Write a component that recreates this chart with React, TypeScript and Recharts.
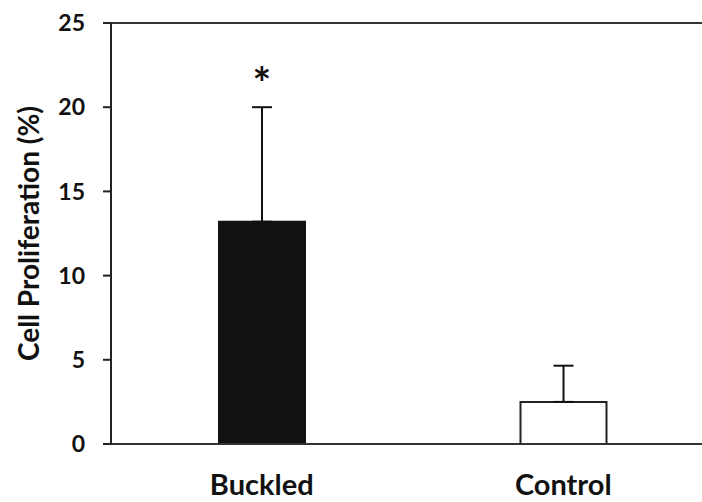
import { BarChart, Bar, XAxis, YAxis, ErrorBar, ReferenceLine, ReferenceDot, Cell } from 'recharts';

const groups = ['Buckled', 'Control'];
const means = [13.2, 2.5];
const upperErrors = [6.8, 2.15];
const significance = ['*', ''];
const yTicks = [0, 5, 10, 15, 20, 25];

const barFills = ['#121212', '#ffffff'];
const barStrokes = ['#121212', '#222222'];

const FONT = 'Lato, "Open Sans", sans-serif';

const chartData = groups.map((g, i) => ({
  group: g,
  value: means[i],
  // one-sided error bar: nothing below the mean, SD above it
  err: [0, upperErrors[i]],
  sig: significance[i],
}));

export default function App() {
  const sigPoints = chartData.filter((d) => d.sig);

  return (
    <div style={{ position: 'fixed', left: 0, top: 0, width: 702, height: 502, overflow: 'hidden', background: '#fff' }}>
      <BarChart
        width={714}
        height={502}
        data={chartData}
        margin={{ top: 23, right: 0, bottom: 0, left: 0 }}
      >
        <XAxis
          dataKey="group"
          height={58}
          axisLine={{ stroke: '#333', strokeWidth: 2 }}
          tickLine={false}
          tickMargin={24}
          tick={{ fill: '#111', fontSize: 29, fontWeight: 700, fontFamily: FONT }}
        />
        <YAxis
          width={111}
          domain={[0, 25]}
          ticks={yTicks}
          interval={0}
          axisLine={{ stroke: '#222', strokeWidth: 2 }}
          tickLine={{ stroke: '#222', strokeWidth: 2 }}
          tickSize={8}
          tickMargin={18}
          tick={{ fill: '#111', fontSize: 23, fontWeight: 700, fontFamily: FONT }}
          label={{
            value: 'Cell Proliferation (%)',
            angle: -90,
            position: 'insideLeft',
            offset: 29,
            style: { textAnchor: 'middle', fill: '#111', fontSize: 28, fontWeight: 700, fontFamily: FONT },
          }}
        />
        <ReferenceLine y={25} stroke="#333" strokeWidth={2} ifOverflow="extendDomain" />
        <Bar dataKey="value" barSize={86} isAnimationActive={false} strokeWidth={2}>
          {chartData.map((d, i) => (
            <Cell key={d.group} fill={barFills[i]} stroke={barStrokes[i]} />
          ))}
          <ErrorBar dataKey="err" width={10} stroke="#111" strokeWidth={2} direction="y" />
        </Bar>
        {sigPoints.map((d) => (
          <ReferenceDot
            key={d.group}
            x={d.group}
            y={d.value + upperErrors[groups.indexOf(d.group)]}
            r={0}
            stroke="none"
            fill="none"
            label={{
              value: d.sig,
              position: 'top',
              offset: 8,
              fill: '#111',
              fontSize: 44,
              fontWeight: 700,
              fontFamily: FONT,
            }}
          />
        ))}
      </BarChart>
    </div>
  );
}
